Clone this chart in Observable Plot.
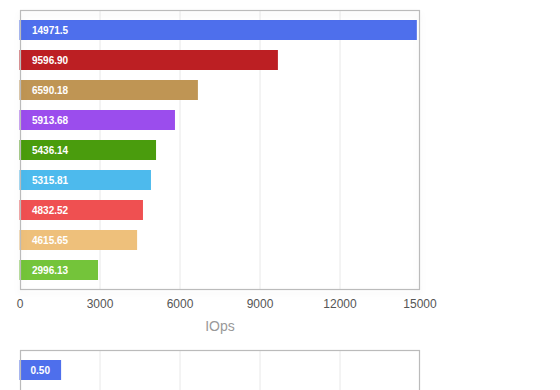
<!DOCTYPE html>
<html><head><meta charset="utf-8">
<script src="https://cdn.jsdelivr.net/npm/d3@7"></script>
<script src="https://cdn.jsdelivr.net/npm/@observablehq/plot@0.6"></script>
<style>
body{margin:0;background:#fff;font-family:"Liberation Sans",Arial,Helvetica,sans-serif;}
#c1,#c2{display:block;}
#c2{height:50px;overflow:hidden;}
</style>
</head><body>
<div id="c1"></div>
<div id="c2"></div>
<script>
// Chart 1: IOps
const categories = ["r1","r2","r3","r4","r5","r6","r7","r8","r9"];
// bar lengths as drawn in the picture
const values = [14900, 9690, 6690, 5830, 5120, 4930, 4630, 4410, 2945];
// value labels printed on the bars
const valueLabels = ["14971.5","9596.90","6590.18","5913.68","5436.14","5315.81","4832.52","4615.65","2996.13"];
const colors = ["#4e6fec","#bc1f23","#bf9554","#9b4ded","#4a9c0d","#4dbaed","#ef5051","#eec07b","#74c43a"];
const xTicks = [0, 3000, 6000, 9000, 12000, 15000];
const xTitle = "IOps";

// Chart 2 (partially visible)
const categories2 = ["r1"];
const values2 = [0.52];
const valueLabels2 = ["0.50"];
const xTicks2 = [0, 1, 2, 3, 4, 5];

const rows = categories.map((c, i) => ({c, v: values[i], label: valueLabels[i], color: colors[i]}));
const rows2 = categories2.map((c, i) => ({c, v: values2[i], label: valueLabels2[i], color: colors[i]}));

const font = "'Liberation Sans', Arial, Helvetica, sans-serif";

const p1 = Plot.plot({
  width: 560, height: 340,
  marginTop: 10, marginLeft: 20, marginRight: 141, marginBottom: 51,
  style: {fontFamily: font, background: "#fff"},
  x: {domain: [0, 15000], range: [19.5, 419.5], ticks: xTicks},
  y: {domain: categories, range: [15, 285], paddingInner: 1/3, paddingOuter: 1/6, align: 0.5, axis: null},
  marks: [
    Plot.gridX(xTicks.slice(1, -1), {stroke: "#e8e8e8", strokeOpacity: 1}),
    Plot.barX(rows, {x: "v", y: "c", fill: "color", insetTop: 0, insetBottom: 0}),
    Plot.text(rows, {x: 0, y: "c", text: "label", dx: 12, textAnchor: "start", fill: "#fff", fontSize: 10, fontWeight: "bold"}),
    Plot.frame({stroke: "#bbb", strokeWidth: 1.2}),
    Plot.axisX(xTicks, {tickSize: 0, tickPadding: 10, fontSize: 12, fill: "#555", label: null, tickFormat: d => String(d)}),
    Plot.text([xTitle], {frameAnchor: "bottom", dy: 37, fontSize: 14, fill: "#999", lineAnchor: "middle"})
  ]
});
const fr = p1.querySelector('[aria-label="frame"]');
if (fr) fr.style.filter = "drop-shadow(0 4px 3px rgba(0,0,0,0.08))";
document.getElementById("c1").append(p1);

const p2 = Plot.plot({
  width: 560, height: 150,
  marginTop: 10, marginLeft: 20, marginRight: 141, marginBottom: 10,
  style: {fontFamily: font, background: "#fff"},
  x: {domain: [0, 5], range: [19.5, 419.5], axis: null},
  y: {domain: categories2, range: [20, 40], padding: 0, axis: null},
  marks: [
    Plot.gridX(xTicks2.slice(1, -1), {stroke: "#e8e8e8", strokeOpacity: 1}),
    Plot.barX(rows2, {x: "v", y: "c", fill: "color"}),
    Plot.text(rows2, {x: 0, y: "c", text: "label", dx: 10.5, textAnchor: "start", fill: "#fff", fontSize: 10, fontWeight: "bold"}),
    Plot.frame({stroke: "#bbb", strokeWidth: 1.2})
  ]
});
document.getElementById("c2").append(p2);
</script>
</body></html>
